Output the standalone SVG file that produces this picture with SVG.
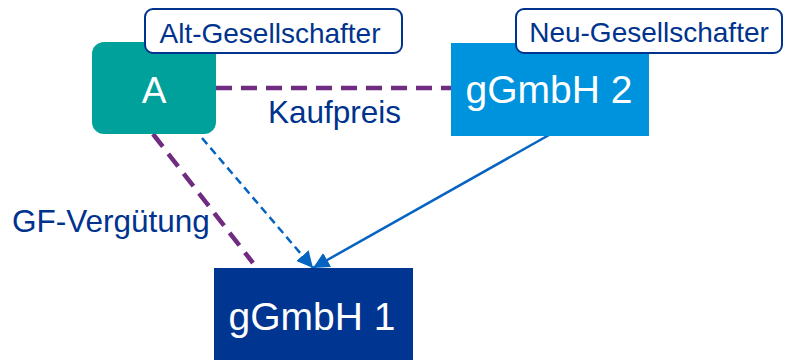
<svg xmlns="http://www.w3.org/2000/svg" width="785" height="360" viewBox="0 0 785 360">
<style>
.lbl{font-family:"Liberation Sans",Arial,sans-serif;fill:#00338D}
.wt{font-family:"Liberation Sans",Arial,sans-serif;fill:#FFFFFF;text-anchor:middle}
.tag{fill:#FFFFFF;stroke:#00338D;stroke-width:2}
.money{fill:none;stroke:#702C80;stroke-width:4.5;stroke-dasharray:16 9}
.blue{fill:none;stroke:#0563C1;stroke-width:2.5}
</style>
<defs>
<marker id="ah" viewBox="0 0 10 10" refX="10" refY="5" markerWidth="6.5" markerHeight="6.5" orient="auto" markerUnits="strokeWidth">
<path d="M0,0 L10,5 L0,10 z" fill="#0563C1"/>
</marker>
</defs>
<g id="connectors">
<line class="money" x1="216" y1="88" x2="451" y2="88"/>
<line class="money" x1="153" y1="134" x2="253" y2="263"/>
<line class="blue" x1="202" y1="138" x2="313" y2="268" stroke-dasharray="8 5" marker-end="url(#ah)"/>
<line class="blue" x1="549" y1="135" x2="313" y2="268" marker-end="url(#ah)"/>
<text class="lbl" x="268" y="123" font-size="31.5">Kaufpreis</text>
<text class="lbl" x="12" y="232" font-size="31.5">GF-Vergütung</text>
</g>
<g id="nodeA">
<rect x="92" y="42" width="124" height="92" rx="12" fill="#00A19A"/>
<text class="wt" x="154" y="103" font-size="37">A</text>
</g>
<g id="nodeG2">
<rect x="451" y="43" width="198" height="93" fill="#0093DD"/>
<text class="wt" x="549" y="103" font-size="39">gGmbH 2</text>
</g>
<g id="nodeG1">
<rect x="214" y="268" width="199" height="92" fill="#003591"/>
<text class="wt" x="312" y="330" font-size="39">gGmbH 1</text>
</g>
<g id="tagAlt">
<rect class="tag" x="145" y="9" width="257" height="44" rx="8"/>
<text class="lbl" x="270" y="43" font-size="28" text-anchor="middle">Alt-Gesellschafter</text>
</g>
<g id="tagNeu">
<rect class="tag" x="516" y="9" width="266" height="44" rx="8"/>
<text class="lbl" x="649" y="42" font-size="28" text-anchor="middle">Neu-Gesellschafter</text>
</g>
</svg>
